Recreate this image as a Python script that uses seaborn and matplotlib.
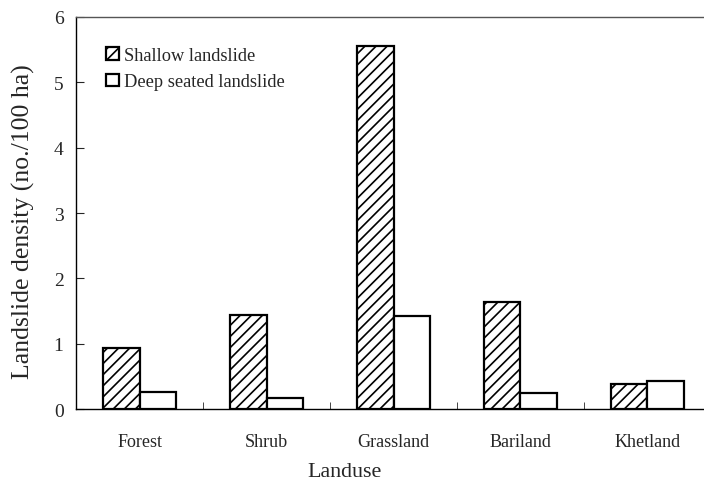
import pandas as pd
import matplotlib
matplotlib.use('Agg')
import matplotlib.pyplot as plt
import seaborn as sns
from matplotlib.patches import Patch

# data
landuse = ['Forest', 'Shrub', 'Grassland', 'Bariland', 'Khetland']
shallow = [0.93, 1.44, 5.55, 1.64, 0.39]
deep = [0.26, 0.17, 1.43, 0.24, 0.43]
series = ['Shallow landslide', 'Deep seated landslide']

df = pd.DataFrame({
    'landuse': landuse * 2,
    'density': shallow + deep,
    'type': [series[0]] * len(landuse) + [series[1]] * len(landuse),
})

sns.set_style('ticks')
plt.rcParams['font.family'] = ['Liberation Serif', 'DejaVu Serif']
plt.rcParams['hatch.linewidth'] = 1.2

fig = plt.figure(figsize=(7.04, 4.85), dpi=100)
ax = fig.add_axes([0.108, 0.1546, 0.892, 0.8083])

sns.barplot(data=df, x='landuse', y='density', hue='type', order=landuse,
            hue_order=series, palette=['white', 'white'], edgecolor='black',
            linewidth=1.6, width=0.58, saturation=1, ax=ax)

# hatch the shallow landslide bars
for bar in ax.containers[0]:
    bar.set_hatch('///')

ax.set_ylim(0, 6)
ax.set_xlim(-0.5, 4.445)
ax.set_yticks(range(0, 7))
ax.tick_params(axis='y', direction='in', length=6, labelsize=14, pad=9)
ax.tick_params(axis='x', which='major', length=0, labelsize=13, pad=17)
ax.set_xticks([0.5, 1.5, 2.5, 3.5], minor=True)
ax.tick_params(axis='x', which='minor', direction='in', length=5)

for s in ['left', 'bottom', 'top']:
    ax.spines[s].set_linewidth(1.0)
    ax.spines[s].set_color('black')
ax.spines['top'].set_color('#555555')
ax.spines['right'].set_visible(False)

ax.set_xlabel('Landuse', fontsize=15.8)
ax.set_ylabel('Landslide density (no./100 ha)', fontsize=18.5)
ax.xaxis.set_label_coords(0.428, -0.136)
ax.yaxis.set_label_coords(-0.066, 0.48)

handles = [Patch(facecolor='white', edgecolor='black', hatch='///', linewidth=1.6),
           Patch(facecolor='white', edgecolor='black', linewidth=1.6)]
ax.legend(handles=handles, labels=series, loc='upper left', frameon=False,
          bbox_to_anchor=(0.022, 0.965), fontsize=13.2, handlelength=0.7,
          handleheight=0.7, handletextpad=0.25, labelspacing=0.5)

plt.savefig('out.png', dpi=100)
